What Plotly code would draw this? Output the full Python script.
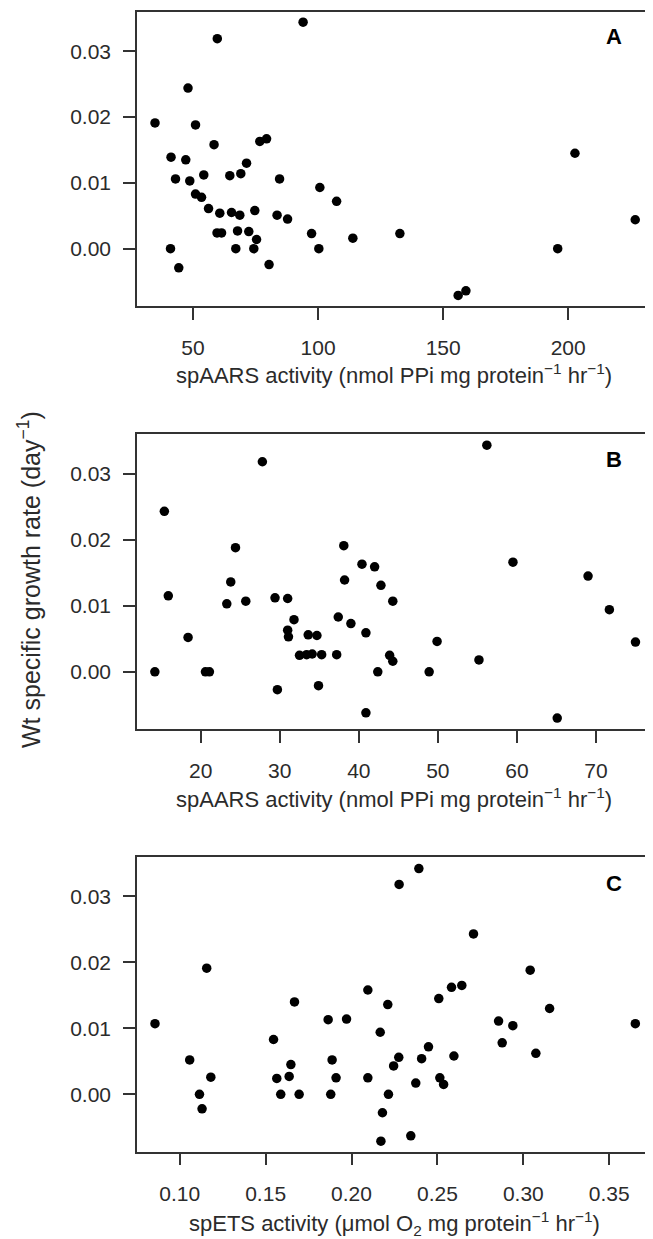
import plotly.graph_objects as go

# Panel A: spAARS activity (nmol PPi mg protein-1 hr-1) vs growth rate
a_x = [34.8, 59.7, 94.0, 48.0, 51.0, 58.4, 76.7, 79.4, 41.2, 47.1, 71.4, 43.0,
       48.7, 54.3, 64.7, 69.1, 84.6, 100.7, 107.4, 51.0, 53.4, 56.2, 60.7, 65.4,
       68.7, 74.7, 83.6, 87.8, 59.6, 61.4, 67.8, 72.3, 75.4, 97.4, 113.9, 41.0,
       67.1, 74.3, 100.3, 44.3, 80.4, 132.7, 156.0, 159.1, 195.8, 202.7, 226.8]
a_y = [0.0191, 0.0319, 0.0344, 0.0244, 0.0188, 0.0158, 0.0163, 0.0167, 0.0139,
       0.0135, 0.0130, 0.0106, 0.0103, 0.0112, 0.0111, 0.0114, 0.0106, 0.0093,
       0.0072, 0.0083, 0.0078, 0.0061, 0.0054, 0.0055, 0.0051, 0.0058, 0.0051,
       0.0045, 0.0024, 0.0024, 0.0027, 0.0026, 0.0014, 0.0023, 0.0016, 0.0,
       0.0, 0.0, 0.0, -0.0029, -0.0024, 0.0023, -0.0071, -0.0064, 0.0, 0.0145,
       0.0044]

# Panel B
b_x = [14.2, 15.4, 15.9, 18.4, 20.6, 21.1, 23.3, 23.8, 24.4, 25.7, 27.8, 29.4,
       31.0, 29.7, 31.8, 31.0, 31.1, 33.6, 34.7, 32.5, 33.4, 34.1, 35.3, 37.2,
       34.9, 37.4, 38.1, 38.2, 39.0, 40.4, 40.9, 40.9, 42.0, 42.8, 44.3, 43.9,
       44.3, 42.4, 49.9, 48.9, 55.2, 56.2, 59.5, 65.1, 69.0, 71.7, 75.0]
b_y = [0.0, 0.0243, 0.0115, 0.0052, 0.0, 0.0, 0.0103, 0.0136, 0.0188, 0.0107,
       0.0318, 0.0112, 0.0111, -0.0027, 0.0079, 0.0063, 0.0053, 0.0056, 0.0055,
       0.0025, 0.0026, 0.0027, 0.0026, 0.0026, -0.0021, 0.0083, 0.0191, 0.0139,
       0.0073, 0.0163, 0.0059, -0.0062, 0.0159, 0.0131, 0.0107, 0.0025, 0.0016,
       0.0, 0.0046, 0.0, 0.0018, 0.0343, 0.0166, -0.0070, 0.0145, 0.0094, 0.0045]

# Panel C: spETS activity (umol O2 mg protein-1 hr-1)
c_x = [0.0856, 0.1157, 0.1058, 0.1181, 0.1115, 0.1130, 0.1546, 0.1668, 0.1565,
       0.1637, 0.1647, 0.1588, 0.1695, 0.1864, 0.1971, 0.1887, 0.1910, 0.1879,
       0.2095, 0.2095, 0.2211, 0.2167, 0.2275, 0.2245, 0.2215, 0.2180, 0.2171,
       0.2277, 0.2392, 0.2345, 0.2374, 0.2408, 0.2448, 0.2508, 0.2514, 0.2536,
       0.2582, 0.2642, 0.2596, 0.2710, 0.2856, 0.2877, 0.2939, 0.3040, 0.3073,
       0.3153, 0.3652]
c_y = [0.0107, 0.0191, 0.0052, 0.0026, 0.0, -0.0022, 0.0083, 0.0140, 0.0024,
       0.0027, 0.0045, 0.0, 0.0, 0.0113, 0.0114, 0.0052, 0.0025, 0.0, 0.0158,
       0.0025, 0.0136, 0.0094, 0.0056, 0.0043, 0.0, -0.0028, -0.0071, 0.0318,
       0.0342, -0.0063, 0.0017, 0.0054, 0.0072, 0.0145, 0.0025, 0.0015, 0.0162,
       0.0165, 0.0058, 0.0243, 0.0111, 0.0078, 0.0104, 0.0188, 0.0062, 0.0130,
       0.0107]

y_ticks = [0.00, 0.01, 0.02, 0.03]
a_ticks = [50, 100, 150, 200]
b_ticks = [20, 30, 40, 50, 60, 70]
c_ticks = [0.10, 0.15, 0.20, 0.25, 0.30, 0.35]

panel_labels = ["A", "B", "C"]
x_titles = [
    "spAARS activity (nmol PPi mg protein<sup>\u22121</sup> hr<sup>\u22121</sup>)",
    "spAARS activity (nmol PPi mg protein<sup>\u22121</sup> hr<sup>\u22121</sup>)",
    "spETS activity (\u03bcmol O<sub>2</sub> mg protein<sup>\u22121</sup> hr<sup>\u22121</sup>)",
]
y_title = "Wt specific growth rate (day<sup>\u22121</sup>)"

# The page body adds an 8 px margin, so the figure is drawn 8 px smaller
# and all page-pixel positions are shifted by that offset.
OFF = 8
W, H = 653 - OFF, 1239 - OFF
L, R = 137 - OFF, 1
PW = W - L - R
FONT = "Liberation Sans, Arial, Helvetica, sans-serif"
TXT = "#2b2b2b"
AX = "#333333"

# page-pixel boxes (top, bottom) of each panel
boxes = [(11.7, 306.0), (434.0, 729.3), (856.7, 1151.7)]
xranges = [[27.6, 233.5], [11.94, 77.09], [0.07513, 0.3749]]
yrange = [-0.0087, 0.0360]


def py(v):
    return 1 - (v - OFF) / H


def px(v):
    return (v - OFF - L) / PW


fig = go.Figure()
data = [(a_x, a_y), (b_x, b_y), (c_x, c_y)]
xt = [a_ticks, b_ticks, c_ticks]
xfmt = ["d", "d", ".2f"]

for i, (xs, ys) in enumerate(data):
    sfx = "" if i == 0 else str(i + 1)
    fig.add_trace(go.Scatter(
        x=xs, y=ys, mode="markers",
        marker=dict(color="black", size=9.5, line=dict(width=0)),
        xaxis="x" + sfx, yaxis="y" + sfx, showlegend=False,
        hoverinfo="skip"))
    top, bot = boxes[i]
    dom = [py(bot), py(top)]
    common = dict(showgrid=False, zeroline=False, showline=True, linecolor=AX,
                  linewidth=1.5, mirror=True, ticks="outside", ticklen=12,
                  tickwidth=1.5, tickcolor=AX,
                  tickfont=dict(family=FONT, size=21, color=TXT))
    fig.update_layout(**{
        "xaxis" + sfx: dict(common, domain=[0, 1], range=xranges[i],
                             tickvals=xt[i], tickformat=xfmt[i],
                             ticklabelstandoff=10, anchor="y" + sfx),
        "yaxis" + sfx: dict(common, domain=dom, range=yrange,
                             tickvals=y_ticks, tickformat=".2f",
                             ticklabelstandoff=8, anchor="x" + sfx),
    })

annotations = []
label_y = [37.0, 459.0, 883.0]
title_y = [374.0, 798.0, 1223.0]
for i in range(3):
    annotations.append(dict(
        text="<b>" + panel_labels[i] + "</b>", xref="paper", yref="paper",
        x=px(614), y=py(label_y[i]),
        xanchor="center", yanchor="middle", showarrow=False,
        font=dict(family=FONT, size=22, color="black")))
    annotations.append(dict(
        text=x_titles[i], xref="paper", yref="paper",
        x=px(394), y=py(title_y[i]),
        xanchor="center", yanchor="middle", showarrow=False,
        font=dict(family=FONT, size=22, color=TXT)))
annotations.append(dict(
    text=y_title, xref="paper", yref="paper",
    x=px(29), y=py(580), textangle=-90,
    xanchor="center", yanchor="middle", showarrow=False,
    font=dict(family=FONT, size=25, color=TXT)))

fig.update_layout(
    width=W, height=H,
    margin=dict(l=L, r=R, t=0, b=0, pad=0),
    paper_bgcolor="white", plot_bgcolor="white",
    annotations=annotations,
)

fig.write_html("out.html")
